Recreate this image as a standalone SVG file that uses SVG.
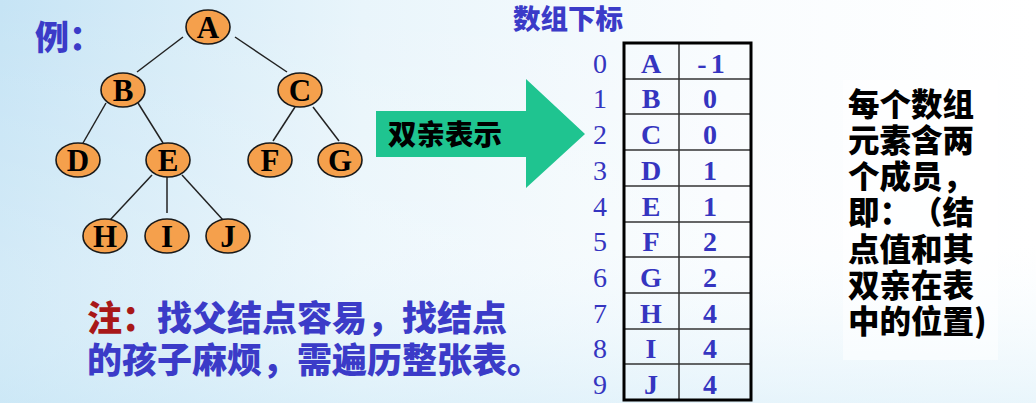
<svg xmlns="http://www.w3.org/2000/svg" width="1036" height="403" viewBox="0 0 1036 403">
<defs>
<linearGradient id="bg" x1="0" y1="0" x2="1" y2="0">
<stop offset="0" stop-color="#c6e4f5"/>
<stop offset="0.35" stop-color="#e9f5fb"/>
<stop offset="0.7" stop-color="#f9fcfe"/>
<stop offset="1" stop-color="#ffffff"/>
</linearGradient>
<linearGradient id="bg2" x1="0" y1="0" x2="0" y2="1">
<stop offset="0" stop-color="#ffffff" stop-opacity="0"/>
<stop offset="0.6" stop-color="#ffffff" stop-opacity="0.2"/>
<stop offset="1" stop-color="#d3ecf8" stop-opacity="0.5"/>
</linearGradient>
<style>
.node ellipse{fill:#f5a04c;stroke:#1a1a1a;stroke-width:1.6}
.node text{font-family:"Liberation Serif",serif;font-weight:bold;font-size:31px;fill:#000;text-anchor:middle}
.edge{stroke:#222;stroke-width:1.5;fill:none}
.cjk{font-family:"Noto Sans CJK SC",sans-serif;font-weight:900;text-spacing-trim:space-all}
.blue{fill:#3b3bc8}
.idx{font-family:"Liberation Serif",serif;font-size:28px;fill:#3535c0;text-anchor:middle}
.cell{font-family:"Liberation Serif",serif;font-weight:bold;font-size:28px;fill:#3535c0;text-anchor:middle}
.inner{stroke:#333;stroke-width:1.5}
</style>
</defs>
<rect width="1036" height="403" fill="url(#bg)"/>
<rect width="1036" height="403" fill="url(#bg2)"/>
<rect x="843" y="80" width="155" height="280" fill="#ffffff" opacity="0.5"/>

<text x="35" y="50" class="cjk blue" font-size="34">例：</text>

<g id="connectors">
<line class="edge" x1="183" y1="37" x2="137" y2="72"/>
<line class="edge" x1="235" y1="37" x2="287" y2="72"/>
<line class="edge" x1="106" y1="103" x2="83" y2="143"/>
<line class="edge" x1="138" y1="103" x2="163" y2="143"/>
<line class="edge" x1="295" y1="107" x2="273" y2="141"/>
<line class="edge" x1="313" y1="107" x2="339" y2="141"/>
<line class="edge" x1="152" y1="175" x2="110" y2="220"/>
<line class="edge" x1="167" y1="177" x2="167" y2="213"/>
<line class="edge" x1="182" y1="175" x2="223" y2="220"/>
</g>

<g id="node-A" class="node"><ellipse cx="208" cy="27" rx="22" ry="17"/><text x="208" y="38">A</text></g>
<g id="node-B" class="node"><ellipse cx="123" cy="90" rx="22" ry="17"/><text x="123" y="101">B</text></g>
<g id="node-C" class="node"><ellipse cx="300" cy="90" rx="22" ry="17"/><text x="300" y="101">C</text></g>
<g id="node-D" class="node"><ellipse cx="78" cy="160" rx="22" ry="17"/><text x="78" y="171">D</text></g>
<g id="node-E" class="node"><ellipse cx="168" cy="160" rx="22" ry="17"/><text x="168" y="171">E</text></g>
<g id="node-F" class="node"><ellipse cx="270" cy="160" rx="22" ry="17"/><text x="270" y="171">F</text></g>
<g id="node-G" class="node"><ellipse cx="340" cy="160" rx="22" ry="17"/><text x="340" y="171">G</text></g>
<g id="node-H" class="node"><ellipse cx="105" cy="236" rx="22" ry="17"/><text x="105" y="247">H</text></g>
<g id="node-I" class="node"><ellipse cx="167" cy="236" rx="22" ry="17"/><text x="167" y="247">I</text></g>
<g id="node-J" class="node"><ellipse cx="228" cy="236" rx="22" ry="17"/><text x="228" y="247">J</text></g>

<g id="arrow">
<polygon points="376,111 526,111 526,79 585,134 526,188 526,157 376,157" fill="#1fc490"/>
<text x="388" y="145" class="cjk" font-size="28.5" fill="#000">双亲表示</text>
</g>

<text x="513" y="29" class="cjk blue" font-size="27.5">数组下标</text>

<g id="table">
<g class="inner">
<line x1="679" y1="43" x2="679" y2="400"/>
<line x1="624" y1="79" x2="751" y2="79"/>
<line x1="624" y1="114" x2="751" y2="114"/>
<line x1="624" y1="150" x2="751" y2="150"/>
<line x1="624" y1="186" x2="751" y2="186"/>
<line x1="624" y1="222" x2="751" y2="222"/>
<line x1="624" y1="257" x2="751" y2="257"/>
<line x1="624" y1="293" x2="751" y2="293"/>
<line x1="624" y1="329" x2="751" y2="329"/>
<line x1="624" y1="364" x2="751" y2="364"/>
</g>
<rect x="624" y="43" width="127" height="357" fill="none" stroke="#000" stroke-width="3"/>
<g class="idx">
<text x="600" y="73">0</text>
<text x="600" y="108">1</text>
<text x="600" y="144">2</text>
<text x="600" y="180">3</text>
<text x="600" y="216">4</text>
<text x="600" y="251">5</text>
<text x="600" y="287">6</text>
<text x="600" y="323">7</text>
<text x="600" y="358">8</text>
<text x="600" y="394">9</text>
</g>
<g class="cell">
<text x="651" y="73">A</text>
<text x="651" y="108">B</text>
<text x="651" y="144">C</text>
<text x="651" y="180">D</text>
<text x="651" y="216">E</text>
<text x="651" y="251">F</text>
<text x="651" y="287">G</text>
<text x="651" y="323">H</text>
<text x="651" y="358">I</text>
<text x="651" y="394">J</text>
<text x="713" y="73" letter-spacing="4">-1</text>
<text x="710" y="108">0</text>
<text x="710" y="144">0</text>
<text x="710" y="180">1</text>
<text x="710" y="216">1</text>
<text x="710" y="251">2</text>
<text x="710" y="287">2</text>
<text x="710" y="323">4</text>
<text x="710" y="358">4</text>
<text x="710" y="394">4</text>
</g>
</g>

<g class="cjk" font-size="31.5" fill="#000">
<text x="848" y="116">每个数组</text>
<text x="848" y="152">元素含两</text>
<text x="848" y="188">个成员，</text>
<text x="848" y="224">即：（结</text>
<text x="848" y="261">点值和其</text>
<text x="848" y="297">双亲在表</text>
<text x="848" y="333">中的位置)</text>
</g>

<g class="cjk" font-size="35">
<text x="87" y="331" class="blue"><tspan fill="#a81818">注：</tspan>找父结点容易，找结点</text>
<text x="87" y="373" class="blue">的孩子麻烦，需遍历整张表。</text>
</g>
</svg>
